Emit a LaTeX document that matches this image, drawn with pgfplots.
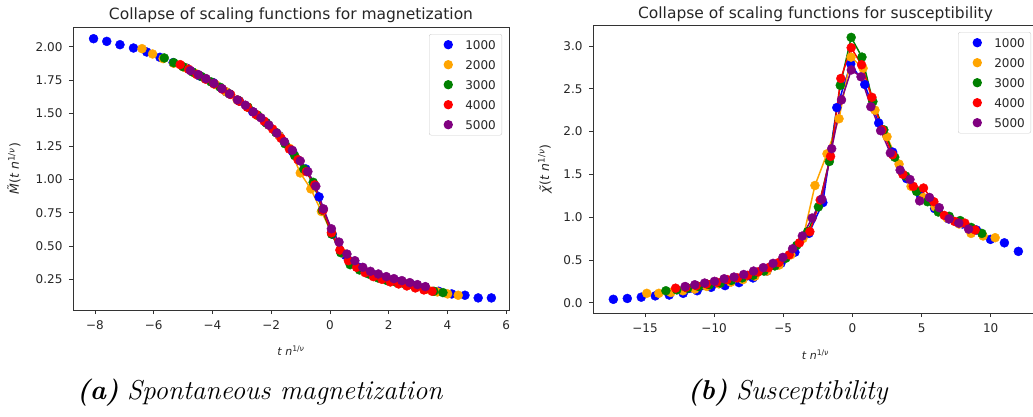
\documentclass[border=0pt]{standalone}
\usepackage{pgfplots}
\pgfplotsset{compat=1.18}
\usepackage{pgfplotstable}
\usepackage{fontspec}
\newfontfamily\dejavu{DejaVu Sans}
\definecolor{mblue}{RGB}{0,0,255}
\definecolor{morange}{RGB}{255,165,0}
\definecolor{mgreen}{RGB}{0,128,0}
\definecolor{mred}{RGB}{255,0,0}
\definecolor{mpurple}{RGB}{128,0,128}

% ---------- magnetization ----------
\pgfplotstableread{
x y
-8.05 2.06
-7.60 2.04
-7.15 2.015
-6.69 1.99
-6.24 1.96
-5.79 1.92
-5.34 1.88
-4.89 1.84
-4.44 1.78
-3.98 1.73
-3.53 1.66
-3.08 1.59
-2.63 1.51
-2.18 1.43
-1.72 1.33
-1.27 1.21
-0.82 1.08
-0.37 0.87
0.08 0.59
0.53 0.43
0.99 0.34
1.44 0.29
1.89 0.26
2.34 0.23
2.79 0.21
3.25 0.19
3.70 0.16
4.15 0.14
4.60 0.13
5.05 0.11
5.50 0.11
}\MA
\pgfplotstableread{
x y
-6.40 1.985
-6.04 1.945
-5.68 1.91
-5.32 1.875
-4.96 1.845
-4.60 1.80
-4.25 1.76
-3.89 1.715
-3.53 1.66
-3.16 1.60
-2.81 1.545
-2.45 1.48
-2.09 1.41
-1.73 1.33
-1.37 1.235
-1.01 1.05
-0.65 0.93
-0.29 0.76
0.06 0.60
0.42 0.45
0.79 0.37
1.14 0.32
1.50 0.28
1.86 0.25
2.22 0.235
2.58 0.215
2.94 0.195
3.30 0.175
3.66 0.155
4.01 0.14
4.37 0.13
}\MB
\pgfplotstableread{
x y
-5.64 1.915
-5.32 1.88
-5.01 1.85
-4.68 1.81
-4.37 1.775
-4.05 1.735
-3.74 1.695
-3.42 1.645
-3.11 1.595
-2.79 1.545
-2.47 1.485
-2.16 1.425
-1.84 1.355
-1.53 1.27
-1.20 1.18
-0.89 1.08
-0.57 0.98
-0.26 0.77
0.06 0.59
0.37 0.45
0.69 0.36
1.01 0.32
1.32 0.29
1.64 0.26
1.95 0.24
2.28 0.225
2.59 0.21
2.91 0.19
3.22 0.175
3.54 0.16
3.85 0.15
}\MC
\pgfplotstableread{
x y
-5.10 1.865
-4.81 1.83
-4.53 1.79
-4.23 1.755
-3.95 1.72
-3.66 1.68
-3.38 1.64
-3.09 1.59
-2.81 1.545
-2.52 1.49
-2.24 1.44
-1.95 1.38
-1.66 1.31
-1.38 1.23
-1.09 1.15
-0.80 1.06
-0.52 0.96
-0.23 0.77
0.05 0.60
0.34 0.47
0.63 0.39
0.91 0.34
1.20 0.30
1.48 0.27
1.77 0.25
2.06 0.23
2.34 0.215
2.62 0.20
2.91 0.185
3.20 0.17
3.48 0.16
}\MD
\pgfplotstableread{
x y
-4.75 1.82
-4.48 1.79
-4.22 1.76
-3.95 1.725
-3.68 1.685
-3.42 1.645
-3.15 1.60
-2.88 1.56
-2.61 1.51
-2.35 1.465
-2.08 1.41
-1.81 1.35
-1.55 1.285
-1.28 1.22
-1.01 1.14
-0.75 1.06
-0.48 0.95
-0.22 0.78
0.05 0.63
0.31 0.53
0.58 0.44
0.85 0.39
1.12 0.34
1.38 0.31
1.65 0.29
1.92 0.27
2.18 0.255
2.45 0.24
2.72 0.225
2.98 0.21
3.25 0.195
}\ME

% ---------- susceptibility ----------
\pgfplotstableread{
x y
-17.29 0.04
-16.28 0.05
-15.27 0.065
-14.26 0.08
-13.25 0.09
-12.24 0.11
-11.23 0.14
-10.22 0.18
-9.21 0.20
-8.20 0.235
-7.19 0.29
-6.18 0.37
-5.17 0.46
-4.16 0.59
-3.15 0.81
-2.14 1.17
-1.13 2.28
-0.12 2.79
0.89 2.55
1.90 2.10
2.91 1.76
3.92 1.45
4.93 1.25
5.94 1.10
6.95 0.98
7.96 0.92
8.97 0.85
9.98 0.74
10.99 0.70
12.00 0.60
}\SA
\pgfplotstableread{
x y
-14.87 0.11
-14.00 0.11
-13.13 0.12
-12.26 0.14
-11.40 0.16
-10.53 0.19
-9.66 0.22
-8.79 0.24
-7.92 0.27
-7.05 0.31
-6.18 0.37
-5.31 0.44
-4.45 0.56
-3.58 0.75
-2.71 1.37
-1.84 1.74
-0.97 2.15
-0.10 2.87
0.77 2.74
1.63 2.25
2.50 1.94
3.37 1.62
4.24 1.36
5.11 1.23
5.98 1.12
6.85 0.99
7.72 0.92
8.58 0.81
9.45 0.78
10.32 0.76
}\SB
\pgfplotstableread{
x y
-13.49 0.14
-12.70 0.15
-11.91 0.17
-11.12 0.19
-10.34 0.21
-9.55 0.23
-8.76 0.26
-7.97 0.29
-7.18 0.32
-6.40 0.37
-5.61 0.43
-4.82 0.52
-4.03 0.67
-3.24 0.83
-2.46 1.12
-1.67 1.65
-0.88 2.54
-0.09 3.10
0.69 2.87
1.48 2.35
2.27 2.02
3.06 1.70
3.85 1.48
4.64 1.30
5.43 1.18
6.21 1.06
7.00 1.01
7.79 0.96
8.58 0.88
9.36 0.81
}\SC
\pgfplotstableread{
x y
-12.79 0.17
-12.05 0.18
-11.30 0.20
-10.55 0.22
-9.81 0.24
-9.06 0.27
-8.31 0.29
-7.57 0.32
-6.82 0.36
-6.07 0.41
-5.32 0.47
-4.57 0.56
-3.83 0.70
-3.08 0.83
-2.33 1.20
-1.58 1.71
-0.84 2.62
-0.09 2.98
0.66 2.78
1.41 2.40
2.15 2.02
2.90 1.73
3.65 1.50
4.40 1.36
5.14 1.34
5.89 1.18
6.64 1.02
7.39 0.95
8.13 0.93
8.88 0.85
}\SD
\pgfplotstableread{
x y
-12.10 0.19
-11.40 0.21
-10.69 0.23
-9.98 0.25
-9.28 0.28
-8.57 0.30
-7.86 0.33
-7.15 0.37
-6.45 0.41
-5.74 0.46
-5.03 0.53
-4.33 0.63
-3.62 0.78
-2.91 0.99
-2.21 1.21
-1.50 1.80
-0.79 2.37
-0.08 2.72
0.62 2.64
1.33 2.29
2.04 2.01
2.74 1.75
3.45 1.55
4.16 1.44
4.86 1.19
5.57 1.23
6.28 1.11
6.99 0.98
7.69 0.93
8.40 0.86
}\SE

\pgfplotsset{
  mplaxis/.style={
    scale only axis,
    axis line style={black!80, line width=0.8pt},
    tick pos=left,
    tick align=outside,
    major tick length=4pt,
    tick style={black!80, line width=0.8pt},
    ticklabel style={font=\dejavu\fontsize{12}{12}\selectfont, text=black!85},
    xticklabel style={yshift=-3pt},
    yticklabel style={xshift=-3pt},
    title style={font=\dejavu\fontsize{15.5}{16}\selectfont, text=black!85, at={(0.5,1)}, anchor=base, yshift=2pt},
    xlabel style={font=\dejavu\fontsize{11}{12}\selectfont, text=black!85},
    ylabel style={font=\dejavu\fontsize{12.5}{13}\selectfont, text=black!85},
    legend style={draw=black!20, rounded corners=2pt, fill=white,
      font=\dejavu\fontsize{12}{13}\selectfont, text=black!85,
      at={(1,1)}, anchor=north east, xshift=-7pt, yshift=-7pt,
      inner xsep=4pt, inner ysep=4pt, row sep=7pt,
      nodes={text height=9pt, text depth=0pt, inner xsep=2pt, inner ysep=2pt},
      /tikz/every even column/.append style={column sep=7pt}},
    sc/.style={only marks, mark=*, mark size=4.5pt, mark options={draw=##1, fill=##1},
      legend image code/.code={\path[draw=none, fill=none] (0pt,0pt) -- (30pt,0pt); \fill[##1, draw=none] (15pt,0pt) circle (4.7pt);}},
    ln/.style={no marks, line width=1.5pt, color=##1, forget plot},
  },
}

\begin{document}
\begin{tikzpicture}[x=1pt,y=1pt]
\useasboundingbox (0,0) rectangle (1033,416);

\begin{axis}[mplaxis,
  at={(73pt,106pt)}, anchor=south west,
  width=436pt, height=283pt,
  xmin=-8.75, xmax=6.1, ymin=0.019, ymax=2.148,
  xtick={-8,-6,-4,-2,0,2,4,6},
  xticklabels={−8,−6,−4,−2,0,2,4,6},
  ytick={0.25,0.5,0.75,1,1.25,1.5,1.75,2},
  yticklabels={0.25,0.50,0.75,1.00,1.25,1.50,1.75,2.00},
  title={Collapse of scaling functions for magnetization},
  xlabel={\textit{t n}\textsuperscript{1/\textit{ν}}},
  ylabel={\textit{M̃}(\textit{t n}\textsuperscript{1/\textit{ν}})},
  xlabel style={at={(axis description cs:0.5,0)}, anchor=center, yshift=-41pt},
  ylabel style={at={(axis description cs:0,0.5)}, anchor=center, yshift=59pt},
]
\addplot[sc=mblue] table {\MA}; \addlegendentry{1000}
\addplot[sc=morange] table {\MB}; \addlegendentry{2000}
\addplot[sc=mgreen] table {\MC}; \addlegendentry{3000}
\addplot[sc=mred] table {\MD}; \addlegendentry{4000}
\addplot[sc=mpurple] table {\ME}; \addlegendentry{5000}
\addplot[ln=mblue, restrict x to domain=-4.8:3.3] table {\MA};
\addplot[ln=morange, restrict x to domain=-4.8:3.3] table {\MB};
\addplot[ln=mgreen, restrict x to domain=-4.8:3.3] table {\MC};
\addplot[ln=mred, restrict x to domain=-4.8:3.3] table {\MD};
\addplot[ln=mpurple, restrict x to domain=-4.8:3.3] table {\ME};
\end{axis}

\begin{axis}[mplaxis,
  at={(593pt,103pt)}, anchor=south west,
  width=445pt, height=288pt,
  xmin=-18.76, xmax=13.42, ymin=-0.12, ymax=3.245,
  xtick={-15,-10,-5,0,5,10},
  xticklabels={−15,−10,−5,0,5,10},
  ytick={0,0.5,1,1.5,2,2.5,3},
  yticklabels={0.0,0.5,1.0,1.5,2.0,2.5,3.0},
  title={Collapse of scaling functions for susceptibility},
  title style={yshift=-1pt},
  xlabel={\textit{t n}\textsuperscript{1/\textit{ν}}},
  ylabel={\textit{χ̃}(\textit{t n}\textsuperscript{1/\textit{ν}})},
  xlabel style={at={(axis description cs:0.5,0)}, anchor=center, yshift=-42pt},
  ylabel style={at={(axis description cs:0,0.5)}, anchor=center, yshift=48pt},
]
\addplot[sc=mblue] table {\SA}; \addlegendentry{1000}
\addplot[sc=morange] table {\SB}; \addlegendentry{2000}
\addplot[sc=mgreen] table {\SC}; \addlegendentry{3000}
\addplot[sc=mred] table {\SD}; \addlegendentry{4000}
\addplot[sc=mpurple] table {\SE}; \addlegendentry{5000}
\addplot[ln=mblue, restrict x to domain=-12.3:8.5] table {\SA};
\addplot[ln=morange, restrict x to domain=-12.3:8.5] table {\SB};
\addplot[ln=mgreen, restrict x to domain=-12.3:8.5] table {\SC};
\addplot[ln=mred, restrict x to domain=-12.3:8.5] table {\SD};
\addplot[ln=mpurple, restrict x to domain=-12.3:8.5] table {\SE};
\end{axis}

\node[anchor=base, font=\fontsize{27.3}{30}\selectfont] at (260,17)
  {\textbf{\textit{(a)}} \textit{Spontaneous magnetization}};
\node[anchor=base, font=\fontsize{27.3}{30}\selectfont] at (788,17)
  {\textbf{\textit{(b)}} \textit{Susceptibility}};
\end{tikzpicture}
\end{document}
